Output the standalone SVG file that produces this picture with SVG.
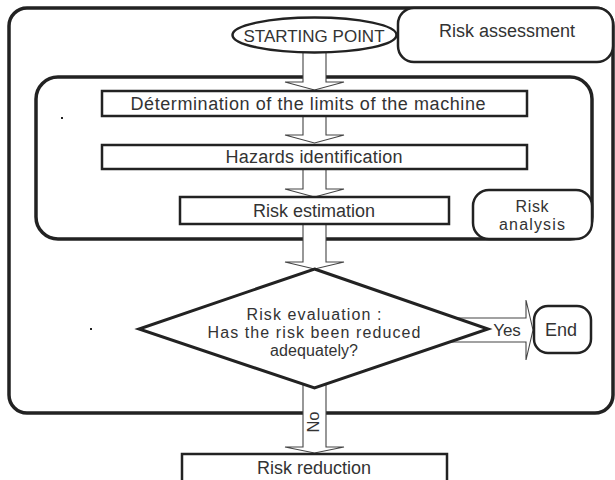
<svg xmlns="http://www.w3.org/2000/svg" width="615" height="480" viewBox="0 0 615 480">
<style>
.frame{fill:none;stroke:#222;stroke-width:3.5}
.box{fill:#fff;stroke:#222;stroke-width:2.5}
.arrow{fill:#fff;stroke:#444;stroke-width:1.1;stroke-linejoin:miter}
.t{font-family:"Liberation Sans",Arial,sans-serif;font-size:18px;fill:#333;text-anchor:middle}
.s{font-size:16px}
.dot{fill:#222}
</style>
<rect width="615" height="480" fill="#fff"/>
<g id="risk-assessment-frame">
<rect class="frame" x="9" y="8" width="604" height="405" rx="18"/>
</g>
<g id="risk-analysis-frame">
<rect class="frame" x="36" y="77" width="556" height="162" rx="22"/>
</g>
<g id="connectors">
<path class="arrow" d="M303 50 L303 82 L285 82 L314.5 90 L344 82 L326 82 L326 50"/>
<path class="arrow" d="M303 116 L303 135 L285 135 L314.5 143 L344 135 L326 135 L326 116"/>
<path class="arrow" d="M303 169 L303 189 L285 189 L314.5 197 L344 189 L326 189 L326 169"/>
<path class="arrow" d="M303 224 L303 262 L285 262 L314.5 269 L344 262 L326 262 L326 224"/>
<path class="arrow" d="M303 385 L303 447 L285 447 L314.5 453 L344 447 L326 447 L326 385"/>
<path class="arrow" d="M430 318 L526 318 L526 300 L533 330 L526 360 L526 342 L430 342"/>
<g transform="translate(319,422) rotate(-90)"><text class="t" x="0" y="0" style="font-size:16.5px">No</text></g>
<text class="t" x="507" y="336" style="font-size:17px">Yes</text>
</g>
<g id="risk-assessment-label">
<rect class="box" x="398" y="8" width="215" height="54" rx="16"/>
<text class="t" x="507" y="37">Risk assessment</text>
</g>
<g id="starting-point">
<ellipse class="box" cx="314.5" cy="35" rx="82" ry="17.5"/>
<text class="t" x="314" y="42" style="font-size:17px">STARTING POINT</text>
</g>
<g id="determination">
<rect class="box" x="102" y="91" width="425" height="25"/>
<text class="t" x="308" y="110" textLength="355" lengthAdjust="spacing">Détermination of the limits of the machine</text>
</g>
<g id="hazards">
<rect class="box" x="102" y="145" width="425" height="24"/>
<text class="t" x="314" y="163" textLength="177" lengthAdjust="spacing">Hazards identification</text>
</g>
<g id="risk-estimation">
<rect class="box" x="180" y="197" width="269" height="27"/>
<text class="t" x="314" y="217">Risk estimation</text>
</g>
<g id="risk-analysis-label">
<rect class="box" x="473" y="190" width="119" height="49" rx="16"/>
<text class="t s" x="532" y="212" textLength="33" lengthAdjust="spacing">Risk</text>
<text class="t s" x="532" y="230" textLength="66" lengthAdjust="spacing">analysis</text>
</g>
<g id="risk-evaluation">
<polygon class="box" points="314.5,269 488,329 314.5,388 139,329" style="stroke-width:3"/>
<text class="t s" x="314" y="320" textLength="135" lengthAdjust="spacing">Risk evaluation :</text>
<text class="t s" x="314" y="338" textLength="213" lengthAdjust="spacing">Has the risk been reduced</text>
<text class="t s" x="314" y="356" textLength="88" lengthAdjust="spacing">adequately?</text>
</g>
<g id="end">
<rect class="box" x="534" y="306" width="57" height="47" rx="14"/>
<text class="t" x="561" y="336">End</text>
</g>
<g id="risk-reduction">
<rect class="box" x="182" y="454" width="265" height="36"/>
<text class="t" x="314" y="474">Risk reduction</text>
</g>
<rect class="dot" x="61" y="117" width="2" height="2"/>
<rect class="dot" x="90" y="328" width="2" height="2"/>
</svg>
